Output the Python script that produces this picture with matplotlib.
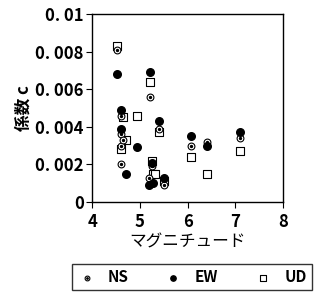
import matplotlib
matplotlib.use("Agg")
import matplotlib.pyplot as plt
from matplotlib.legend_handler import HandlerTuple

plt.rcParams['font.family'] = ['Noto Sans CJK JP', 'DejaVu Sans']

# magnitude / coefficient c per component
ns_m = [4.52, 5.21, 4.6, 5.4, 4.6, 4.6, 4.6, 5.25, 5.2, 5.5, 6.08, 6.4, 7.1, 4.65]
ns_c = [0.0081, 0.0056, 0.0046, 0.0039, 0.0036, 0.0030, 0.0020, 0.0019, 0.0013, 0.0009, 0.0030, 0.0032, 0.0034, 0.0033]
ew_m = [4.52, 5.21, 4.6, 5.4, 4.6, 4.93, 4.7, 5.25, 5.2, 5.27, 5.5, 6.08, 6.4, 7.1]
ew_c = [0.0068, 0.0069, 0.0049, 0.0043, 0.0039, 0.0029, 0.0015, 0.0021, 0.0009, 0.0010, 0.0013, 0.0035, 0.0030, 0.0037]
ud_m = [4.52, 5.21, 4.65, 4.93, 5.4, 4.7, 4.6, 5.25, 5.27, 5.32, 5.5, 6.08, 6.4, 7.1]
ud_c = [0.0083, 0.0064, 0.0045, 0.0046, 0.0037, 0.0033, 0.0028, 0.0022, 0.0015, 0.0015, 0.0011, 0.0024, 0.0015, 0.0027]

xticks = [4, 5, 6, 7, 8]
yticks = [0, 0.002, 0.004, 0.006, 0.008, 0.01]
ylabels = ['0', '0. 002', '0. 004', '0. 006', '0. 008', '0. 01']

fig = plt.figure(figsize=(3.21, 2.94), dpi=100)
ax = fig.add_axes([0.287, 0.313, 0.595, 0.639])

ns1 = ax.scatter(ns_m, ns_c, s=24, facecolor='white', edgecolor='black', linewidth=0.8, zorder=3)
ns2 = ax.scatter(ns_m, ns_c, s=2, color='black', zorder=4)
ew = ax.scatter(ew_m, ew_c, s=30, color='black', zorder=3)
ud = ax.scatter(ud_m, ud_c, s=28, marker='s', facecolor='white', edgecolor='black', linewidth=0.8, zorder=2)

ax.set_xlim(4, 8)
ax.set_ylim(0, 0.01)
ax.set_xticks(xticks)
ax.set_xticklabels([str(x) for x in xticks])
ax.set_yticks(yticks)
ax.set_yticklabels(ylabels)
ax.tick_params(labelsize=12, length=4, width=0.8, pad=2)
ax.tick_params(axis='x', pad=4)
for lab in ax.get_xticklabels() + ax.get_yticklabels():
    lab.set_fontweight('bold')
for sp in ax.spines.values():
    sp.set_linewidth(1.0)

ax.set_xlabel('マグニチュード', fontsize=12, labelpad=2)
ax.set_ylabel('係数 c', fontsize=12, fontweight='bold', labelpad=2)

leg = fig.legend([(ns1, ns2), ew, ud], ['NS', 'EW', 'UD'],
                 handler_map={tuple: HandlerTuple(ndivide=1, pad=0)},
                 ncol=3, loc='lower left', mode='expand',
                 bbox_to_anchor=(72 / 321, 0.012, 240 / 321, 0.1),
                 frameon=True, fancybox=False, edgecolor='black',
                 prop={'weight': 'bold', 'size': 11}, markerscale=0.7,
                 handlelength=1.2, handletextpad=0.8, borderpad=0.35,
                 borderaxespad=0)
leg.get_frame().set_linewidth(1.0)

fig.savefig('out.png', dpi=100)
